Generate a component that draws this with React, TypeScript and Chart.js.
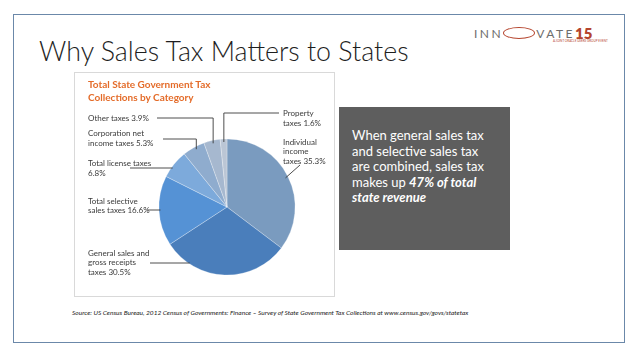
import React, { useEffect, useRef } from "react";
import { Chart, registerables } from "chart.js";

Chart.register(...registerables);

// ---- data ----
const categories = [
  "Individual income taxes",
  "General sales and gross receipts taxes",
  "Total selective sales taxes",
  "Total license taxes",
  "Corporation net income taxes",
  "Other taxes",
  "Property taxes",
];
const shares = [35.3, 30.5, 16.6, 6.8, 5.3, 3.9, 1.6];
const sliceColors = ["#7A9BBF", "#4A7EBB", "#5592D5", "#7DAADB", "#8FACCE", "#A6B8CF", "#BBC6D5"];
const labelLines = [
  ["Individual", "income", "taxes 35.3%"],
  ["General sales and", "gross receipts", "taxes 30.5%"],
  ["Total selective", "sales taxes 16.6%"],
  ["Total license taxes", "6.8%"],
  ["Corporation net", "income taxes 5.3%"],
  ["Other taxes 3.9%"],
  ["Property", "taxes 1.6%"],
];

// ---- layout (page coordinates) ----
const CANVAS_X = 74;
const CANVAS_Y = 72;
const CANVAS_W = 261;
const CANVAS_H = 225;
const LINE_H = 9.6;
const labelLayout = [
  { x: 283, y: 142, kind: "diag", sx: 300, sy: 165 },
  { x: 88, y: 253, kind: "left", sx: 150, sy: 263 },
  { x: 88, y: 201, kind: "left", sx: 147, sy: 210 },
  { x: 88, y: 163.5, kind: "left", sx: 130, sy: 168 },
  { x: 88, y: 133.5, kind: "top", sx: 163, sy: 139 },
  { x: 88, y: 118, kind: "top", sx: 157, sy: 118 },
  { x: 283, y: 113.5, kind: "top", sx: 279, sy: 113 },
];

const FONT = "Lato, 'Open Sans', sans-serif";

const leaderPlugin = {
  id: "leaderLabels",
  afterDatasetsDraw(chart: any) {
    const ctx = chart.ctx;
    const meta = chart.getDatasetMeta(0);
    ctx.save();
    ctx.font = `8px ${FONT}`;
    ctx.fillStyle = "#3a3a3a";
    ctx.textBaseline = "middle";
    ctx.textAlign = "left";
    ctx.strokeStyle = "#3a3a3a";
    ctx.lineWidth = 0.9;
    meta.data.forEach((arc: any, i: number) => {
      const p = arc.getProps(["x", "y", "startAngle", "endAngle", "outerRadius"], true);
      const mid = (p.startAngle + p.endAngle) / 2;
      const L = labelLayout[i];
      const ox = -CANVAS_X;
      const oy = -CANVAS_Y;
      labelLines[i].forEach((t, k) => {
        ctx.fillText(t, L.x + ox, L.y + oy + k * LINE_H);
      });
      const sx = L.sx + ox;
      const sy = L.sy + oy;
      ctx.beginPath();
      ctx.moveTo(sx, sy);
      const R = p.outerRadius;
      if (L.kind === "left") {
        const dy = sy - p.y;
        const dx = Math.sqrt(Math.max(R * R - dy * dy, 0));
        ctx.lineTo(p.x - dx + 1.5, sy);
      } else if (L.kind === "top") {
        const ax = p.x + Math.cos(mid) * R * 0.92;
        const dx = ax - p.x;
        const dy = Math.sqrt(Math.max(R * R - dx * dx, 0));
        ctx.lineTo(ax, sy);
        ctx.lineTo(ax, p.y - dy + 3);
      } else {
        ctx.lineTo(p.x + Math.cos(mid) * R * 0.96, p.y + Math.sin(mid) * R * 0.96);
      }
      ctx.stroke();
    });
    ctx.restore();
  },
};

function PieChart() {
  const ref = useRef<HTMLCanvasElement | null>(null);
  useEffect(() => {
    if (!ref.current) return;
    const chart = new Chart(ref.current, {
      type: "pie",
      data: {
        labels: categories,
        datasets: [
          {
            data: shares,
            backgroundColor: sliceColors,
            borderColor: "rgba(255,255,255,0.35)",
            borderWidth: 0.8,
          },
        ],
      },
      options: {
        responsive: false,
        animation: false,
        layout: { padding: { left: 84.5, right: 39.5, top: 66.5, bottom: 21.5 } },
        plugins: {
          legend: { display: false },
          tooltip: { enabled: false },
          title: { display: false },
        },
      },
      plugins: [leaderPlugin],
    });
    return () => chart.destroy();
  }, []);
  return (
    <canvas
      ref={ref}
      width={CANVAS_W}
      height={CANVAS_H}
      style={{ position: "absolute", left: CANVAS_X, top: CANVAS_Y, width: CANVAS_W, height: CANVAS_H }}
    />
  );
}

export default function App() {
  return (
    <div
      style={{
        position: "fixed",
        left: 0,
        top: 0,
        width: 638,
        height: 359,
        background: "#ffffff",
        fontFamily: FONT,
        overflow: "hidden",
      }}
    >
      {/* slide frame */}
      <div
        style={{
          position: "absolute",
          left: 13,
          top: 14,
          width: 612,
          height: 329,
          border: "1.5px solid #6B88A9",
          boxSizing: "border-box",
        }}
      />
      {/* logo */}
      <div
        style={{
          position: "absolute",
          left: 474,
          top: 25,
          height: 16,
          display: "flex",
          alignItems: "center",
          color: "#6d6d6d",
          fontSize: 12,
          letterSpacing: 2.5,
          fontWeight: 400,
          whiteSpace: "nowrap",
        }}
      >
        <span>INN</span>
        <span
          style={{
            display: "inline-block",
            width: 30,
            height: 10,
            border: "1.5px solid #B5452E",
            borderRadius: "50%",
            margin: "0 1px 0 0",
          }}
        />
        <span>VATE</span>
        <span style={{ color: "#B5452E", fontWeight: 800, fontSize: 15, letterSpacing: 0 }}>15</span>
      </div>
      <div
        style={{
          position: "absolute",
          left: 553,
          top: 39,
          fontSize: 3,
          color: "#B5452E",
          whiteSpace: "nowrap",
        }}
      >
        A JOINT ORACLE USERS GROUP EVENT
      </div>
      {/* title */}
      <div
        style={{
          position: "absolute",
          left: 39,
          top: 34,
          fontSize: 26.8,
          fontWeight: 300,
          color: "#1e1e1e",
          whiteSpace: "nowrap",
          lineHeight: "34px",
        }}
      >
        Why Sales Tax Matters to States
      </div>
      {/* chart box */}
      <div
        style={{
          position: "absolute",
          left: CANVAS_X,
          top: CANVAS_Y,
          width: CANVAS_W,
          height: CANVAS_H,
          border: "1px solid #D9D9D9",
          boxSizing: "border-box",
        }}
      />
      <PieChart />
      <div
        style={{
          position: "absolute",
          left: 88,
          top: 78,
          fontSize: 10,
          fontWeight: 700,
          color: "#E46C2A",
          lineHeight: "12.5px",
          whiteSpace: "nowrap",
        }}
      >
        Total State Government Tax
        <br />
        Collections by Category
      </div>
      {/* callout box */}
      <div
        style={{
          position: "absolute",
          left: 339,
          top: 107,
          width: 171,
          height: 143,
          background: "#5E5E5E",
          color: "#ffffff",
          fontSize: 13,
          lineHeight: "15.5px",
          boxSizing: "border-box",
          padding: "21px 0 0 13px",
        }}
      >
        When general sales tax
        <br />
        and selective sales tax
        <br />
        are combined, sales tax
        <br />
        makes up <b><i>47% of total</i></b>
        <br />
        <b><i>state revenue</i></b>
      </div>
      {/* source */}
      <div
        style={{
          position: "absolute",
          left: 72,
          top: 309,
          fontSize: 6.55,
          fontStyle: "italic",
          color: "#222",
          whiteSpace: "nowrap",
        }}
      >
        Source: US Census Bureau, 2012 Census of Governments: Finance – Survey of State Government Tax Collections at www.census.gov/govs/statetax
      </div>
    </div>
  );
}
